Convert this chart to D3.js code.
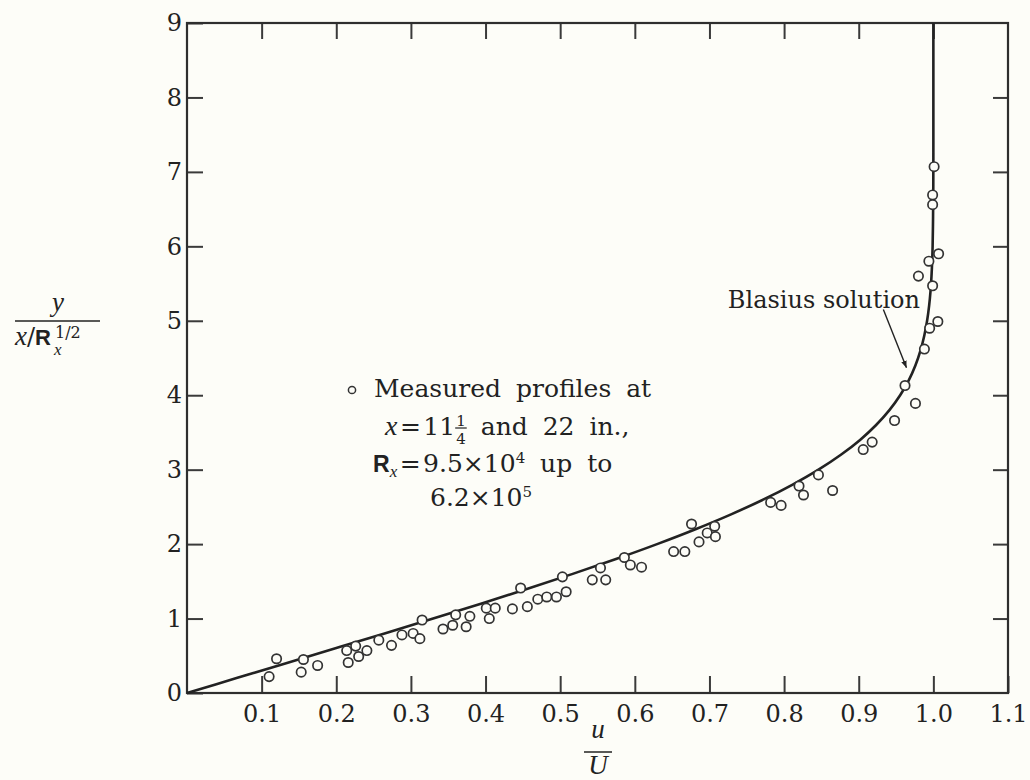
<!DOCTYPE html>
<html>
<head>
<meta charset="utf-8">
<script src="https://cdn.jsdelivr.net/npm/d3@7"></script>
<style>
  html, body { margin: 0; padding: 0; background: #fdfdf8; }
  svg { display: block; font-family: "DejaVu Serif", "Liberation Serif", serif; }
</style>
</head>
<body>
<div id="chart"></div>
<script>
// Blasius solution, u/U against y/(x/Rx^1/2)
const blasiusEta = [0, 0.2, 0.4, 0.6, 0.8, 1.0, 1.2, 1.4, 1.6, 1.8, 2.0, 2.2, 2.4, 2.6, 2.8,
  3.0, 3.2, 3.4, 3.6, 3.8, 4.0, 4.2, 4.4, 4.6, 4.8, 5.0, 5.2, 5.4, 5.6, 5.8, 6.0,
  6.4, 6.8, 7.2, 7.6, 8.0, 9.0];
const blasiusU = [0, 0.0664, 0.1328, 0.1989, 0.2647, 0.3298, 0.3938, 0.4563, 0.5168,
  0.5748, 0.6298, 0.6813, 0.7290, 0.7725, 0.8115, 0.8461, 0.8761, 0.9018, 0.9233,
  0.9411, 0.9555, 0.9670, 0.9759, 0.9827, 0.9878, 0.9916, 0.9943, 0.9962, 0.9975,
  0.9984, 0.9990, 0.9996, 0.9999, 1.0, 1.0, 1.0, 1.0];

// measured profiles
const measuredU = [0.110, 0.120, 0.153, 0.156, 0.175, 0.214, 0.216, 0.226, 0.230, 0.241,
  0.257, 0.274, 0.288, 0.303, 0.312, 0.315, 0.343, 0.356, 0.360, 0.374, 0.379,
  0.401, 0.405, 0.413, 0.436, 0.447, 0.456, 0.470, 0.482, 0.495, 0.508, 0.503,
  0.543, 0.554, 0.561, 0.586, 0.594, 0.609, 0.652, 0.667, 0.676, 0.686, 0.697,
  0.707, 0.708, 0.782, 0.796, 0.820, 0.826, 0.846, 0.865, 0.906, 0.918, 0.948,
  0.962, 0.976, 1.001, 0.999, 0.999, 1.007, 0.994, 0.980, 0.999, 1.006, 0.995, 0.988];
const measuredEta = [0.22, 0.46, 0.28, 0.45, 0.37, 0.57, 0.41, 0.63, 0.49, 0.57,
  0.71, 0.64, 0.78, 0.80, 0.73, 0.98, 0.86, 0.91, 1.05, 0.89, 1.03,
  1.14, 1.00, 1.14, 1.13, 1.41, 1.16, 1.26, 1.29, 1.29, 1.36, 1.56,
  1.52, 1.68, 1.52, 1.82, 1.72, 1.69, 1.90, 1.90, 2.27, 2.03, 2.15,
  2.24, 2.10, 2.56, 2.52, 2.78, 2.66, 2.93, 2.72, 3.27, 3.37, 3.66,
  4.13, 3.89, 7.07, 6.69, 6.56, 5.90, 5.80, 5.60, 5.47, 4.99, 4.90, 4.62];

const xTicks = [0.1, 0.2, 0.3, 0.4, 0.5, 0.6, 0.7, 0.8, 0.9, 1.0, 1.1];
const yTicks = [0, 1, 2, 3, 4, 5, 6, 7, 8, 9];

const width = 1030, height = 780;
const margin = { top: 23, right: 22, bottom: 87, left: 187 };
const ink = "#222";
const paper = "#fdfdf8";
const serif = "DejaVu Serif, Liberation Serif, serif";
const italic = { "font-family": "Liberation Serif, serif", "font-style": "italic" };

const svg = d3.select("#chart").append("svg")
  .attr("width", width)
  .attr("height", height);

const x = d3.scaleLinear().domain([0, 1.1]).range([margin.left, width - margin.right]);
const y = d3.scaleLinear().domain([0, 9]).range([height - margin.bottom, margin.top]);

// axes, ticks pointing inward
function styleAxis(g, labels) {
  g.attr("font-family", serif);
  g.select(".domain").remove();
  g.selectAll(".tick line").attr("stroke", "#3a3a3a").attr("stroke-width", 2);
  g.selectAll(".tick text").attr("fill", ink).attr("font-size", 24);
  if (!labels) g.selectAll(".tick text").remove();
}

svg.append("g")
  .attr("transform", `translate(0,${y(0)})`)
  .call(d3.axisBottom(x).tickValues(xTicks).tickFormat(d3.format(".1f"))
    .tickSize(-17).tickPadding(12))
  .call(g => styleAxis(g, true));

svg.append("g")
  .attr("transform", `translate(0,${y(9)})`)
  .call(d3.axisTop(x).tickValues(xTicks.slice(0, -1)).tickSize(-16))
  .call(g => styleAxis(g, false));

svg.append("g")
  .attr("transform", `translate(${x(0)},0)`)
  .call(d3.axisLeft(y).tickValues(yTicks).tickFormat(d3.format("d"))
    .tickSize(-16).tickPadding(5))
  .call(g => styleAxis(g, true));

svg.append("g")
  .attr("transform", `translate(${x(1.1)},0)`)
  .call(d3.axisRight(y).tickValues(yTicks.slice(1, -1)).tickSize(-15))
  .call(g => styleAxis(g, false));

// frame
svg.append("rect")
  .attr("x", x(0)).attr("y", y(9))
  .attr("width", x(1.1) - x(0)).attr("height", y(0) - y(9))
  .attr("fill", "none").attr("stroke", "#2e2e2e").attr("stroke-width", 2.2);

// Blasius curve
const line = d3.line()
  .curve(d3.curveCatmullRom)
  .x(i => x(blasiusU[i]))
  .y(i => y(blasiusEta[i]));

svg.append("path")
  .attr("d", line(d3.range(blasiusEta.length)))
  .attr("fill", "none")
  .attr("stroke", ink)
  .attr("stroke-width", 2.6);

// measured points
svg.append("g")
  .selectAll("circle")
  .data(d3.range(measuredU.length))
  .join("circle")
  .attr("cx", i => x(measuredU[i]))
  .attr("cy", i => y(measuredEta[i]))
  .attr("r", 4.7)
  .attr("fill", paper)
  .attr("stroke", "#333")
  .attr("stroke-width", 1.7);

// rich text helper: list of [text, attrs]
function rich(parent, px, py, parts, size) {
  const t = parent.append("text")
    .attr("x", px).attr("y", py)
    .attr("font-size", size).attr("fill", ink);
  parts.forEach(([s, a]) => {
    const sp = t.append("tspan").text(s);
    Object.entries(a || {}).forEach(([k, v]) => sp.attr(k, v));
  });
  return t;
}
const bold = { "font-family": "Liberation Sans, Arial, sans-serif", "font-weight": "bold" };

// y axis label
rich(svg, 58, 311, [["y", Object.assign({ "font-size": 27 }, italic)]], 24)
  .attr("text-anchor", "middle");
svg.append("line")
  .attr("x1", 15).attr("x2", 100).attr("y1", 321).attr("y2", 321)
  .attr("stroke", ink).attr("stroke-width", 1.5);
rich(svg, 15, 345, [
  ["x", Object.assign({ "font-size": 27 }, italic)],
  ["/", {}],
  ["R", Object.assign({ "font-size": 22 }, bold)]
], 24);
rich(svg, 54, 355, [["x", Object.assign({ "font-size": 17 }, italic)]], 17);
svg.append("text")
  .attr("x", 55).attr("y", 338)
  .attr("font-size", 16).attr("fill", ink)
  .text("1/2");

// x axis label
rich(svg, 598, 738, [["u", Object.assign({ "font-size": 27 }, italic)]], 24)
  .attr("text-anchor", "middle");
svg.append("line")
  .attr("x1", 584).attr("x2", 612).attr("y1", 752).attr("y2", 752)
  .attr("stroke", ink).attr("stroke-width", 1.5);
rich(svg, 598, 774, [["U", Object.assign({ "font-size": 27 }, italic)]], 24)
  .attr("text-anchor", "middle");

// legend annotation
const note = svg.append("g").attr("word-spacing", 7);
note.append("circle")
  .attr("cx", 352).attr("cy", 390).attr("r", 3.6)
  .attr("fill", paper).attr("stroke", "#333").attr("stroke-width", 1.5);
rich(note, 374, 397, [["Measured profiles at", {}]], 25);
const l2 = rich(note, 385, 435, [
  ["x", Object.assign({ "font-size": 28 }, italic)],
  ["\u200a=\u200a11", {}],
  ["1", { "font-size": 15, dy: -9, dx: 1 }],
  ["4", { "font-size": 15, dy: 18, dx: -9.5 }],
  [" and 22 in.,", { dy: -9 }]
], 25);
{
  const sp = l2.selectAll("tspan").nodes()[2].getBBox();
  note.append("line")
    .attr("x1", sp.x - 1).attr("x2", sp.x + sp.width + 1)
    .attr("y1", 428).attr("y2", 428)
    .attr("stroke", ink).attr("stroke-width", 1.2);
}
rich(note, 373, 472, [
  ["R", Object.assign({ "font-size": 23 }, bold)],
  ["x", Object.assign({ "font-size": 17, dy: 5 }, italic)],
  ["\u200a=\u200a9.5\u00d710", { dy: -5 }],
  ["4", { "font-size": 15, dy: -9 }],
  [" up to", { dy: 9 }]
], 25);
rich(note, 430, 506, [
  ["6.2\u00d710", {}],
  ["5", { "font-size": 15, dy: -9 }]
], 25);

// Blasius label and arrow
svg.append("text")
  .attr("x", 920).attr("y", 308)
  .attr("text-anchor", "end")
  .attr("font-size", 24).attr("fill", ink)
  .text("Blasius solution");

svg.append("defs").append("marker")
  .attr("id", "head")
  .attr("viewBox", "0 0 10 10")
  .attr("refX", 10).attr("refY", 5)
  .attr("markerWidth", 7).attr("markerHeight", 7)
  .attr("markerUnits", "userSpaceOnUse")
  .attr("orient", "auto")
  .append("path").attr("d", "M0,1 L10,5 L0,9 Z").attr("fill", ink);

svg.append("line")
  .attr("x1", x(0.933)).attr("y1", y(5.15))
  .attr("x2", x(0.964)).attr("y2", y(4.37))
  .attr("stroke", ink).attr("stroke-width", 1.4)
  .attr("marker-end", "url(#head)");
</script>
</body>
</html>
